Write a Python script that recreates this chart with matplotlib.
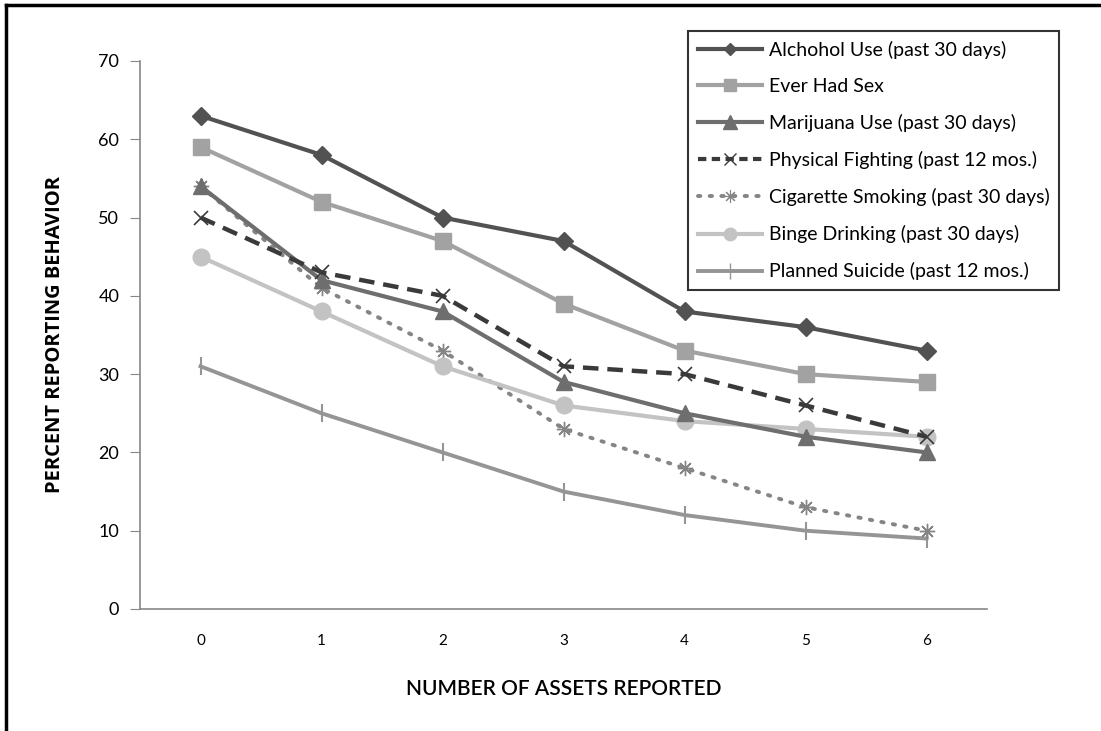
import matplotlib
matplotlib.use("Agg")
import matplotlib.pyplot as plt
from matplotlib.lines import Line2D

plt.rcParams['font.family'] = ['Lato', 'DejaVu Sans']

assets = [0, 1, 2, 3, 4, 5, 6]
alcohol = [63, 58, 50, 47, 38, 36, 33]
sex = [59, 52, 47, 39, 33, 30, 29]
marijuana = [54, 42, 38, 29, 25, 22, 20]
fighting = [50, 43, 40, 31, 30, 26, 22]
cigarette = [54, 41, 33, 23, 18, 13, 10]
binge = [45, 38, 31, 26, 24, 23, 22]
suicide = [31, 25, 20, 15, 12, 10, 9]

names = ["Alchohol Use (past 30 days)", "Ever Had Sex", "Marijuana Use (past 30 days)",
         "Physical Fighting (past 12 mos.)", "Cigarette Smoking (past 30 days)",
         "Binge Drinking (past 30 days)", "Planned Suicide (past 12 mos.)"]

fig = plt.figure(figsize=(11.01, 7.31), dpi=100)
ax = fig.add_axes([0.1272, 0.1669, 0.7693, 0.7497])

x = list(range(len(assets)))
ax.plot(x, suicide, color='#959595', lw=2.8, marker='|', ms=13, mew=1.5, zorder=2)
ax.plot(x, cigarette, color='#858585', lw=2.8, ls=(0, (0.6, 2.4)), marker=(8, 2, 0),
        ms=11, mew=1.0, dash_capstyle='round', zorder=3)
ax.plot(x, binge, color='#c3c3c3', lw=3, marker='o', ms=12, zorder=3)
ax.plot(x, marijuana, color='#6e6e6e', lw=3, marker='^', ms=12, zorder=4)
ax.plot(x, fighting, color='#3a3a3a', lw=3.2, ls=(0, (3.5, 2)), marker='x', ms=10,
        mew=1.2, zorder=5)
ax.plot(x, sex, color='#a2a2a2', lw=3, marker='s', ms=11, zorder=4)
ax.plot(x, alcohol, color='#525252', lw=3, marker='D', ms=9, zorder=5)

ax.set_xlim(-0.5, 6.5)
ax.set_ylim(0, 70)
ax.set_yticks(range(0, 71, 10))
ax.set_xticks(x)
ax.set_xticklabels([str(a) for a in assets], fontsize=11)
ax.tick_params(axis='x', length=0, pad=18)
ax.tick_params(axis='y', length=7, color='#888888', labelsize=13, pad=8)
for s in ['top', 'right']:
    ax.spines[s].set_visible(False)
for s in ['left', 'bottom']:
    ax.spines[s].set_color('#888888')
    ax.spines[s].set_linewidth(1.2)

ax.set_ylabel("PERCENT REPORTING BEHAVIOR", fontsize=14.5, fontweight='bold',
              family=['Open Sans', 'DejaVu Sans'], labelpad=24)
ax.set_xlabel("NUMBER OF ASSETS REPORTED", fontsize=15, fontweight='semibold',
              labelpad=22)

# legend built from the same styles as the series
handles = [
    Line2D([], [], color='#525252', lw=3, marker='D', ms=6),
    Line2D([], [], color='#a2a2a2', lw=3, marker='s', ms=9),
    Line2D([], [], color='#6e6e6e', lw=3, marker='^', ms=10),
    Line2D([], [], color='#3a3a3a', lw=3, ls=(0, (2, 1.3)), marker='x', ms=9, mew=1),
    Line2D([], [], color='#858585', lw=2.8, ls=(0, (0.6, 2.4)), marker=(8, 2, 0), ms=9,
           mew=0.8, dash_capstyle='round'),
    Line2D([], [], color='#c3c3c3', lw=3, marker='o', ms=9),
    Line2D([], [], color='#959595', lw=2.8, marker='|', ms=12, mew=1),
]
leg = fig.legend(handles, names, loc='upper left', bbox_to_anchor=(688 / 1101, 1 - 31 / 731),
                 fontsize=14, frameon=True, fancybox=False, edgecolor='black',
                 handlelength=3.3, labelspacing=0.98, borderpad=0.5, handletextpad=0.35,
                 borderaxespad=0)
leg.get_frame().set_linewidth(1.5)

# outer frame on the left and top edges
fig.add_artist(Line2D([6 / 1101, 6 / 1101], [0, 1 - 5 / 731], color='black', lw=2.5,
                      transform=fig.transFigure))
fig.add_artist(Line2D([6 / 1101, 1], [1 - 5 / 731, 1 - 5 / 731], color='black', lw=2.5,
                      transform=fig.transFigure))

fig.savefig("out.png", dpi=100)
